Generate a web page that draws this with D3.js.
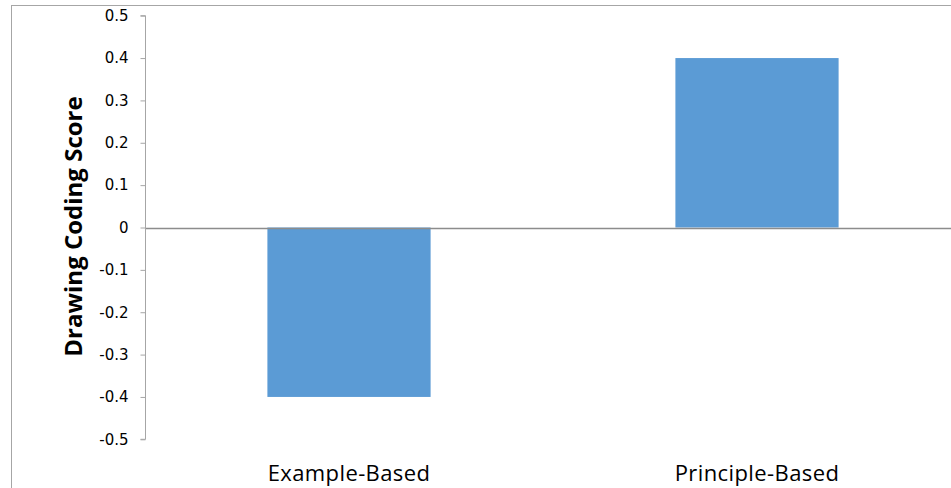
<!DOCTYPE html>
<html>
<head>
<meta charset="utf-8">
<script src="https://cdn.jsdelivr.net/npm/d3@7"></script>
<style>
  html, body { margin: 0; padding: 0; background: #fff; }
  svg { display: block; }
  text { font-family: "Open Sans", sans-serif; fill: #000; }
</style>
</head>
<body>
<svg id="chart" width="951" height="488"></svg>
<script>
// Mean drawing coding score by instruction condition
const categories = ["Example-Based", "Principle-Based"];
const scores = [-0.4, 0.4];
const yTicks = [0.5, 0.4, 0.3, 0.2, 0.1, 0, -0.1, -0.2, -0.3, -0.4, -0.5];
const yTitle = "Drawing Coding Score";

const svg = d3.select("#chart");

// chart frame
svg.append("rect")
  .attr("x", 11.5).attr("y", 5.5)
  .attr("width", 960).attr("height", 500)
  .attr("fill", "none").attr("stroke", "#a6a6a6").attr("stroke-width", 1);

const plot = { left: 145, right: 961, top: 15.7, bottom: 439.3 };

const x = d3.scaleBand()
  .domain(categories)
  .range([plot.left, plot.right])
  .paddingInner(0.6)
  .paddingOuter(0.3);

const y = d3.scaleLinear()
  .domain([-0.5, 0.5])
  .range([plot.bottom, plot.top]);

// bars
svg.append("g").selectAll("rect")
  .data(categories)
  .join("rect")
  .attr("x", d => x(d))
  .attr("width", x.bandwidth())
  .attr("y", (d, i) => y(Math.max(0, scores[i])))
  .attr("height", (d, i) => Math.abs(y(scores[i]) - y(0)))
  .attr("fill", "#5b9bd5");

// zero baseline
svg.append("line")
  .attr("x1", plot.left).attr("x2", plot.right)
  .attr("y1", Math.round(y(0)) + 0.5).attr("y2", Math.round(y(0)) + 0.5)
  .attr("stroke", "#8c8c8c").attr("stroke-width", 1.5);

// y axis
const yAxis = d3.axisLeft(y)
  .tickValues(yTicks)
  .tickSize(5)
  .tickPadding(12)
  .tickFormat(d => d === 0 ? "0" : d3.format(".1f")(d).replace("\u2212", "-"));

const gy = svg.append("g")
  .attr("transform", `translate(${plot.left + 0.5},0)`)
  .call(yAxis);
gy.select(".domain").attr("stroke", "#a6a6a6").attr("d", `M-5,${y(0.5)}H0V${y(-0.5)}H-5`);
gy.selectAll(".tick line").attr("stroke", "#a6a6a6");
gy.selectAll(".tick text")
  .style("font-family", "'DejaVu Sans', sans-serif")
  .style("font-size", "15px")
  .attr("fill", "#000");

// category labels
svg.append("g").selectAll("text")
  .data(categories)
  .join("text")
  .attr("x", d => x(d) + x.bandwidth() / 2)
  .attr("y", 481)
  .attr("text-anchor", "middle")
  .style("font-size", "22px")
  .style("letter-spacing", "0.4px")
  .text(d => d);

// y title
svg.append("text")
  .attr("transform", `translate(82,${y(0) - 1}) rotate(-90)`)
  .attr("text-anchor", "middle")
  .style("font-size", "24px")
  .style("font-weight", "bold")
  .text(yTitle);
</script>
</body>
</html>
